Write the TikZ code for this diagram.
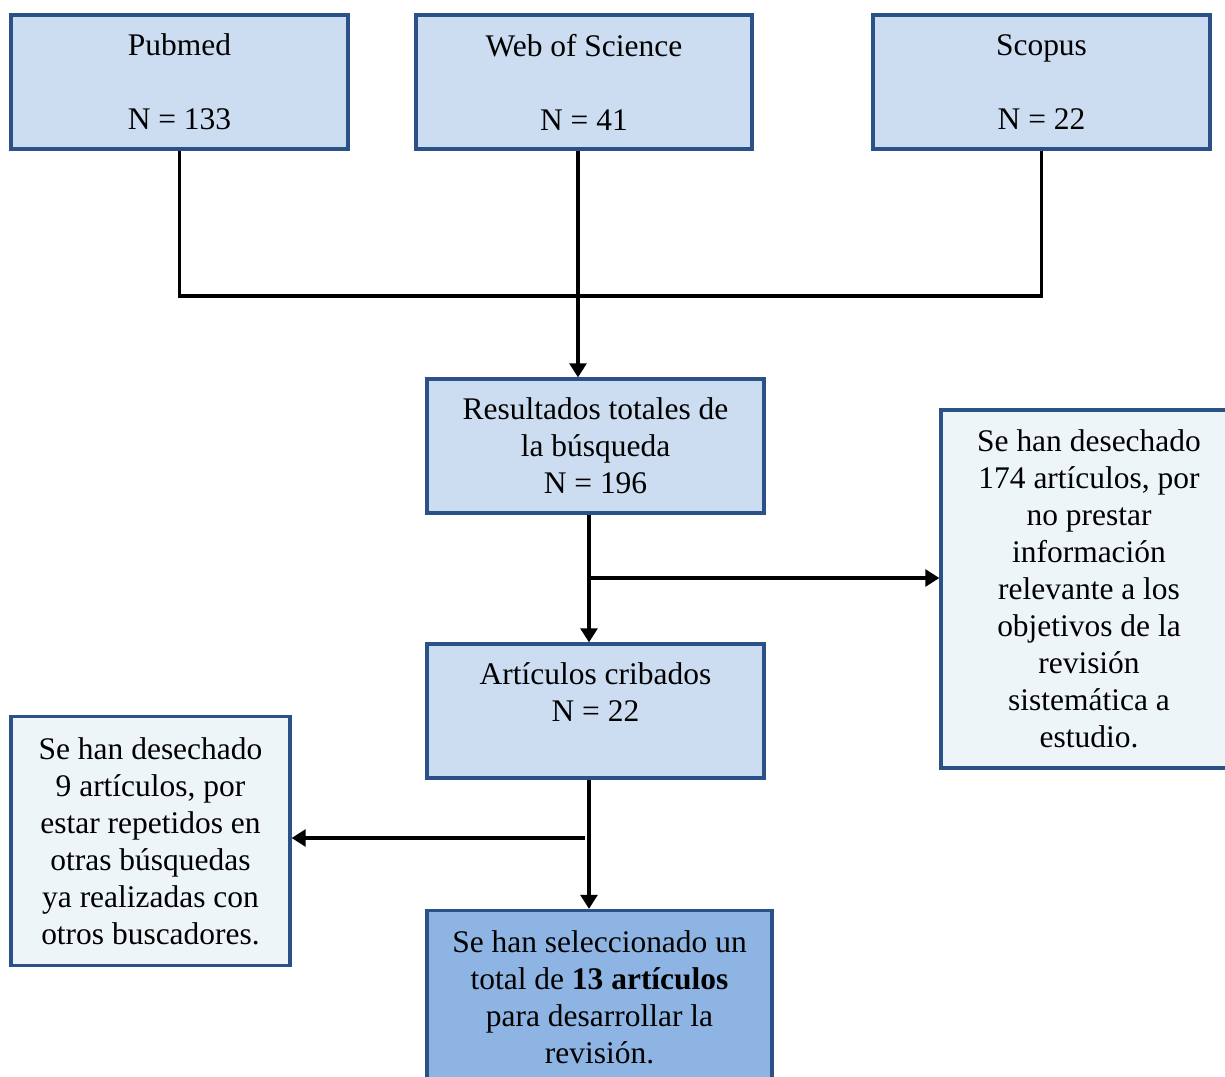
\documentclass[tikz,border=0pt]{standalone}
\usepackage{fontspec}
\setmainfont{Liberation Serif}
\usetikzlibrary{arrows.meta}
\definecolor{bordc}{HTML}{2A5289}
\definecolor{lightb}{HTML}{CCDDF1}
\definecolor{paleb}{HTML}{EEF5F8}
\definecolor{darkb}{HTML}{8EB4E3}
\tikzset{
  box/.style={draw=bordc, line width=2.4pt, rectangle, inner sep=0pt, align=center,
    font=\fontsize{23.6pt}{27.75pt}\selectfont},
  conn/.style={line width=2.6pt, black},
  arr/.style={conn, -{Triangle[length=10.5pt,width=12.5pt]}}
}
\begin{document}
\begin{tikzpicture}[x=0.75pt,y=-0.75pt]
\useasboundingbox (0,0) rectangle (1225,1077);
\clip (0,0) rectangle (1225,1077);
\node[box, fill=lightb, minimum width={337*0.75pt}, minimum height={134*0.75pt}] (pub) at (179.5,82) {Pubmed\\~\\N = 133};
\node[box, fill=lightb, minimum width={336*0.75pt}, minimum height={134*0.75pt}] (wos) at (584,82) {Web of Science\\~\\N = 41};
\node[box, fill=lightb, minimum width={337*0.75pt}, minimum height={134*0.75pt}] (sco) at (1041.5,82) {Scopus\\~\\N = 22};
\node[box, fill=lightb, minimum width={337*0.75pt}, minimum height={134*0.75pt}] (res) at (595.5,446) {Resultados totales de\\la búsqueda\\N = 196};
\node[box, fill=lightb, minimum width={337*0.75pt}, minimum height={134*0.75pt}] (crib) at (595.5,711) {Artículos cribados\\N = 22\\~};
\node[box, fill=paleb, minimum width={296*0.75pt}, minimum height={358*0.75pt}] (desc1) at (1089,589) {Se han desechado\\174 artículos, por\\no prestar\\información\\relevante a los\\objetivos de la\\revisión\\sistemática a\\estudio.};
\node[box, fill=paleb, minimum width={279*0.75pt}, minimum height={249*0.75pt}] (desc2) at (150.5,841) {Se han desechado\\9 artículos, por\\estar repetidos en\\otras búsquedas\\ya realizadas con\\otros buscadores.};
\node[box, fill=darkb, minimum width={345*0.75pt}, minimum height={173*0.75pt}] (fin) at (599.5,997) {Se han seleccionado un\\total de \textbf{13 artículos}\\para desarrollar la\\revisión.};
\coordinate (j) at (578,296);
\coordinate (sp) at (589,0);
\coordinate (b1) at (589,578);
\coordinate (b2) at (585,838);
\draw[conn] (pub.south) -- (pub.south |- j) -- (sco.south |- j) -- (sco.south);
\draw[arr] (wos.south -| j) -- (res.north -| j);
\draw[arr] (res.south -| sp) -- (crib.north -| sp);
\draw[arr] (b1) -- (b1 -| desc1.west);
\draw[arr] (crib.south -| sp) -- (fin.north -| sp);
\draw[arr] (b2) -- (b2 -| desc2.east);
\end{tikzpicture}
\end{document}
